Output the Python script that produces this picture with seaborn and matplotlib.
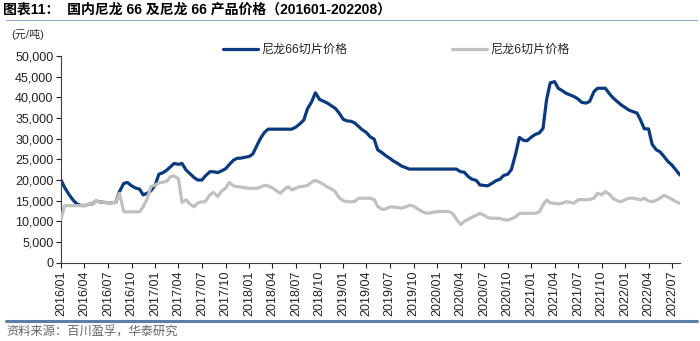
import numpy as np
import pandas as pd
import matplotlib
matplotlib.use("Agg")
import matplotlib.pyplot as plt
import matplotlib.dates as mdates
from matplotlib.ticker import FuncFormatter
import seaborn as sns

# ---- data (semi-monthly readings, 2016-01-01 .. 2022-08-01) ----
dates = pd.date_range("2016-01-01", "2022-08-01", freq="SMS")

pa66_chip = [
    # 2016
    20000, 18200, 16500, 15300, 14300, 13900, 13800, 14100, 14200, 14900, 14700, 14600,
    14500, 14500, 14600, 17200, 19200, 19400, 18600, 18100, 17800, 16400, 16800, 17400,
    # 2017
    18800, 21400, 21800, 22400, 23200, 24000, 23800, 24000, 22400, 21600, 20600, 20000,
    20000, 21000, 22000, 22000, 21800, 22200, 22700, 23700, 24800, 25250, 25300, 25500,
    # 2018
    25700, 26300, 28500, 30200, 31500, 32300, 32300, 32300, 32300, 32300, 32300, 32300,
    32800, 33500, 34500, 37200, 39000, 41100, 39500, 39100, 38600, 38000, 37350, 36300,
    # 2019
    34700, 34300, 34200, 33800, 33000, 32200, 31500, 30500, 29900, 27300, 26600, 25900,
    25250, 24600, 24000, 23400, 23000, 22650, 22650, 22650, 22650, 22650, 22650, 22650,
    # 2020
    22650, 22650, 22650, 22650, 22650, 22650, 22000, 21900, 20800, 20200, 19900, 18800,
    18700, 18600, 19200, 19800, 20200, 21100, 21400, 22500, 26400, 30300, 29600, 29500,
    # 2021
    30400, 31000, 31400, 32500, 39500, 43500, 43800, 42200, 41600, 41000, 40550, 40200,
    39600, 38800, 38600, 39000, 41400, 42200, 42200, 42200, 40800, 39800, 38950, 38200,
    # 2022
    37500, 36900, 36500, 36200, 34500, 32400, 32350, 28600, 27300, 26850, 25600, 24500,
    23600, 22500, 21200,
]

pa6_chip = [
    # 2016
    10500, 13800, 13800, 13800, 13800, 13800, 13800, 14100, 14200, 14900, 14700, 14600,
    14500, 14500, 14600, 16800, 12300, 12300, 12300, 12300, 12300, 13500, 15500, 18400,
    # 2017
    18800, 19300, 19500, 19700, 20800, 21000, 20300, 14600, 15200, 14200, 13500, 14500,
    14700, 14800, 16400, 17000, 16000, 17300, 18000, 19400, 18600, 18400, 18300, 18100,
    # 2018
    18000, 18000, 18000, 18300, 18700, 18600, 18100, 17500, 16800, 17600, 18400, 17600,
    18000, 18400, 18500, 18700, 19500, 19900, 19500, 19000, 18300, 17900, 17200, 15800,
    # 2019
    15000, 14750, 14750, 14800, 15600, 15600, 15600, 15600, 15300, 13600, 12900, 13000,
    13500, 13450, 13350, 13200, 13500, 13900, 13700, 13100, 12500, 12000, 12000, 12200,
    # 2020
    12350, 12350, 12400, 12350, 11900, 10600, 9200, 10000, 10500, 11000, 11500, 11900,
    11500, 10900, 10750, 10750, 10700, 10400, 10300, 10600, 11100, 11900, 11950, 11950,
    # 2021
    11950, 11950, 12300, 14000, 15150, 14500, 14350, 14200, 14400, 14750, 14600, 14400,
    15200, 15300, 15200, 15300, 15600, 16800, 16400, 17200, 16500, 15500, 15000, 14750,
    # 2022
    15300, 15600, 15600, 15400, 15200, 15600, 14900, 14750, 15100, 15600, 16300, 15900,
    15300, 14800, 14350,
]

series_names = ["尼龙66切片价格", "尼龙6切片价格"]
series_colors = ["#0A3A7E", "#C0C0C0"]

title_text = "图表11：  国内尼龙 66 及尼龙 66 产品价格（201601-202208）"
unit_text = "(元/吨)"
source_text = "资料来源：百川盈孚，华泰研究"

# ---- style ----
sns.set_style("ticks")
plt.rcParams["font.family"] = ["Liberation Sans", "Noto Sans CJK SC", "DejaVu Sans"]
plt.rcParams["axes.unicode_minus"] = False

fig = plt.figure(figsize=(7.0, 3.41), dpi=100)
ax = fig.add_axes([61 / 700, 78.3 / 341, (680 - 61) / 700, (262.7 - 56) / 341])

df = pd.DataFrame({"date": dates, series_names[0]: pa66_chip, series_names[1]: pa6_chip})

sns.lineplot(data=df, x="date", y=series_names[0], ax=ax, color=series_colors[0],
             linewidth=2.3, label=series_names[0], zorder=2)
sns.lineplot(data=df, x="date", y=series_names[1], ax=ax, color=series_colors[1],
             linewidth=2.3, label=series_names[1], zorder=3)

ax.set_xlim(pd.Timestamp("2016-01-01"), pd.Timestamp("2022-08-01"))
ax.set_ylim(0, 50000)
ax.set_yticks(np.arange(0, 50001, 5000))
ax.yaxis.set_major_formatter(FuncFormatter(lambda v, p: f"{int(v):,}"))

ax.xaxis.set_major_locator(mdates.MonthLocator(bymonth=[1, 4, 7, 10]))
ax.xaxis.set_major_formatter(mdates.DateFormatter("%Y/%m"))
for lab in ax.get_xticklabels():
    lab.set_rotation(90)

ax.set_xlabel("")
ax.set_ylabel("")
ax.tick_params(axis="both", labelsize=9, colors="#222222", length=3.5, width=0.8,
               direction="out", pad=2)
for s in ["top", "right"]:
    ax.spines[s].set_visible(False)
for s in ["left", "bottom"]:
    ax.spines[s].set_color("#404040")
    ax.spines[s].set_linewidth(0.8)

# legend
handles, labels = ax.get_legend_handles_labels()
ax.legend(handles, labels, loc="center left", ncol=2, frameon=False,
          bbox_to_anchor=(223 / 700, (341 - 50) / 341), bbox_transform=fig.transFigure,
          borderpad=0, borderaxespad=0, handlelength=2.9, handletextpad=0.3,
          columnspacing=8.6, prop={"family": ["Liberation Sans", "Noto Sans CJK SC"], "size": 8.7})

# texts
fig.text(3 / 700, (341 - 10) / 341, title_text, fontsize=10, fontweight="bold",
         va="center", ha="left", color="#000000")
fig.add_artist(plt.Line2D([6 / 700, 697 / 700], [(341 - 20) / 341] * 2,
                          transform=fig.transFigure, color="#8FA8C8", linewidth=0.8))
fig.text(11 / 700, (341 - 35) / 341, unit_text, fontsize=8, va="center", ha="left",
         color="#333333")
fig.add_artist(plt.Line2D([6 / 700, 697 / 700], [(341 - 321) / 341] * 2,
                          transform=fig.transFigure, color="#5B7FAA", linewidth=2.2))
fig.text(6 / 700, (341 - 332) / 341, source_text, fontsize=8.8, va="center", ha="left",
         color="#666666")

fig.savefig("out.png", dpi=100)
